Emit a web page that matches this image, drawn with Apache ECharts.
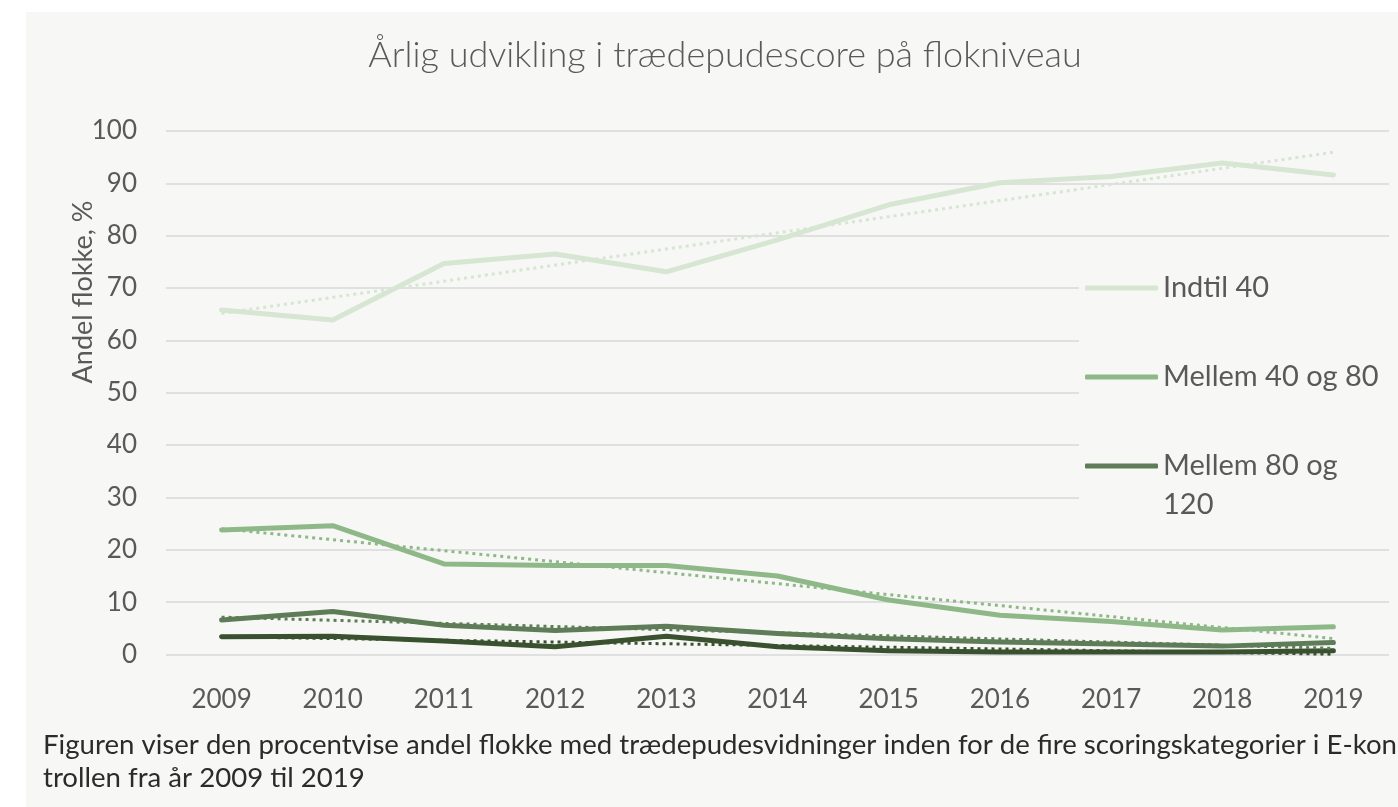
<!DOCTYPE html>
<html>
<head>
<meta charset="utf-8">
<script src="https://cdn.jsdelivr.net/npm/echarts@6/dist/echarts.min.js"></script>
<style>
html,body{margin:0;padding:0;background:#fff;}
#chart{width:1398px;height:807px;}
</style>
</head>
<body>
<div id="chart"></div>
<script>
// ---- data ----
const categories = ['2009','2010','2011','2012','2013','2014','2015','2016','2017','2018','2019'];
const indtil40     = [65.8, 63.9, 74.7, 76.5, 73.1, 79.2, 85.9, 90.1, 91.3, 93.9, 91.6];
const mellem40og80 = [23.8, 24.6, 17.3, 17.0, 17.0, 15.0, 10.4, 7.5, 6.3, 4.7, 5.3];
const mellem80og120= [6.6, 8.2, 5.6, 4.6, 5.4, 4.0, 3.0, 2.4, 2.0, 1.6, 2.3];
const over120      = [3.4, 3.5, 2.6, 1.5, 3.5, 1.5, 0.7, 0.5, 0.5, 0.5, 0.7];
const seriesNames  = ['Indtil 40', 'Mellem 40 og 80', 'Mellem 80 og 120', 'Over 120'];
const yTicks = { min: 0, max: 100, interval: 10 };
const titleText = 'Årlig udvikling i trædepudescore på flokniveau';
const yAxisTitle = 'Andel flokke, %';
const captionText = 'Figuren viser den procentvise andel flokke med trædepudesvidninger inden for de fire scoringskategorier i E-kon\ntrollen fra år 2009 til 2019';

// ---- styling ----
const colors = ['#d7e5d3', '#8fb889', '#5e7c57', '#39512f'];
const textGray = '#595959';
const panelBg = '#f7f7f5';
const font = 'Lato, "Open Sans", sans-serif';

// Linear (least squares) trend line, as in Excel's "Lineær" trendline
function linearTrend(values) {
  const n = values.length;
  let sx = 0, sy = 0, sxy = 0, sxx = 0;
  values.forEach((v, i) => { sx += i; sy += v; sxy += i * v; sxx += i * i; });
  const b = (n * sxy - sx * sy) / (n * sxx - sx * sx);
  const a = (sy - b * sx) / n;
  return values.map((v, i) => +(a + b * i).toFixed(3));
}

const dataSets = [indtil40, mellem40og80, mellem80og120, over120];

const series = [];
dataSets.forEach((d, i) => {
  series.push({
    name: seriesNames[i], type: 'line', data: d, symbol: 'none', z: 2 + i * 0.01,
    lineStyle: { color: colors[i], width: 5, cap: 'round', join: 'round' },
    itemStyle: { color: colors[i] }, silent: true
  });
});
dataSets.forEach((d, i) => {
  series.push({
    name: 'Lineær (' + seriesNames[i] + ')', type: 'line', data: linearTrend(d), symbol: 'none', z: 3,
    lineStyle: { color: colors[i], width: 3, type: [3, 4], cap: 'butt' },
    itemStyle: { color: colors[i] }, silent: true
  });
});

const legendText = { color: textGray, fontSize: 29, fontFamily: font, lineHeight: 39 };
const legendBase = {
  orient: 'vertical', left: 1079, icon: 'roundRect', itemWidth: 73, itemHeight: 5,
  selectedMode: false, backgroundColor: panelBg, textStyle: legendText
};

const chart = echarts.init(document.getElementById('chart'));
chart.setOption({
  backgroundColor: panelBg,
  animation: false,
  title: {
    text: titleText, left: 725, top: 37, textAlign: 'center', padding: 0,
    textStyle: { color: textGray, fontSize: 36, fontWeight: 300, fontFamily: font }
  },
  grid: { left: 166, right: 9, top: 131, bottom: 152.5, containLabel: false },
  xAxis: {
    type: 'category', data: categories, boundaryGap: true,
    axisLine: { show: false }, axisTick: { show: false },
    axisLabel: { color: textGray, fontSize: 26, fontFamily: font, margin: 32 }
  },
  yAxis: {
    type: 'value', min: yTicks.min, max: yTicks.max, interval: yTicks.interval,
    axisLine: { show: false }, axisTick: { show: false },
    splitLine: { lineStyle: { color: '#d9d9d9', width: 1.5 } },
    axisLabel: { color: textGray, fontSize: 26, fontFamily: font, margin: 29 }
  },
  legend: [
    Object.assign({}, legendBase, { data: [seriesNames[0]], top: 262, padding: [6.5, 150, 50, 6] }),
    Object.assign({}, legendBase, { data: [seriesNames[1]], top: 307, padding: [50.5, 150, 0, 6] }),
    Object.assign({}, legendBase, {
      data: [seriesNames[2]], top: 396.5, padding: [11, 150, 6, 6],
      formatter: function (n) { return '\n' + n.replace('og ', 'og\n'); }
    })
  ],
  graphic: [
    { type: 'rect', shape: { x: 0, y: 0, width: 1398, height: 12 }, style: { fill: '#ffffff' }, silent: true },
    { type: 'rect', shape: { x: 0, y: 0, width: 26, height: 807 }, style: { fill: '#ffffff' }, silent: true },
    { type: 'text', x: 83, y: 292, rotation: Math.PI / 2,
      style: { text: yAxisTitle, fill: textGray, fontSize: 27, fontFamily: font, align: 'center', verticalAlign: 'middle' } },
    { type: 'text', x: 43, y: 729,
      style: { text: captionText, fill: '#2b2b2b', fontSize: 27.6, fontFamily: font, lineHeight: 33, align: 'left', verticalAlign: 'top' } }
  ],
  series: series
});
</script>
</body>
</html>
